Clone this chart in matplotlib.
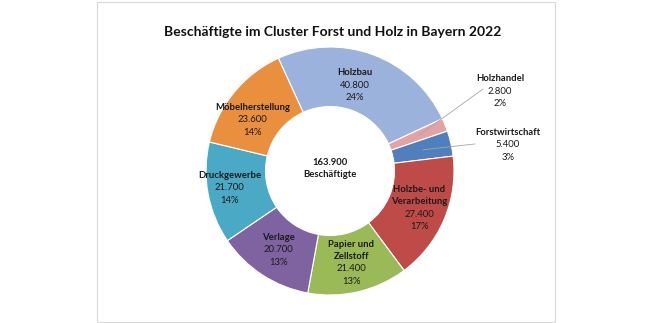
import numpy as np
import matplotlib
matplotlib.use("Agg")
import matplotlib.pyplot as plt
from matplotlib.patches import Rectangle

# Data (Beschäftigte im Cluster Forst und Holz, Bayern 2022)
sectors = ["Holzbau", "Holzhandel", "Forstwirtschaft", "Holzbe- und\nVerarbeitung",
           "Papier und\nZellstoff", "Verlage", "Druckgewerbe", "Möbelherstellung"]
employees = [40800, 2800, 5400, 27400, 21400, 20700, 21700, 23600]
shares = [24, 2, 3, 17, 13, 13, 14, 14]
total_employees = 163900
colors = ["#9BB2DC", "#E3A3A2", "#4F7FBC", "#BE4B48", "#9ABA58", "#7F62A0", "#4AA9C4", "#EA8F3E"]

# label nudges (data units, outer radius = 1)
nudges = [(-0.06, -0.02), (0, 0), (0, 0), (0.02, 0.0),
          (0.0, 0.0), (0.0, 0.0), (-0.06, 0.0), (-0.04, -0.07)]
# outside labels for the two small slices
outside = {1: (1.37, 0.645), 2: (1.435, 0.21)}
outside_line_end = {1: (1.234, 0.661), 2: (1.169, 0.218)}

plt.rcParams['font.family'] = ['Lato', 'DejaVu Sans']

W, H = 646, 323
cx, cy, R = 330, 171, 124
fig = plt.figure(figsize=(W / 100, H / 100), dpi=100)
ax = fig.add_axes([0, 0, 1, 1])

start = 114.6
ax.pie(employees, colors=colors, startangle=start, counterclock=False, radius=1,
       wedgeprops=dict(width=0.48, edgecolor='white', linewidth=0.8))
ax.set_xlim(-cx / R, (W - cx) / R)
ax.set_ylim(-(H - cy) / R, cy / R)
ax.set_aspect('equal')
ax.axis('off')

def fmt(v):
    return f"{v:,}".replace(",", ".")

fs = 6.8
step = 0.1
total = sum(employees)
angle = start
for i, (name, v, p) in enumerate(zip(sectors, employees, shares)):
    sweep = v / total * 360
    mid = np.radians(angle - sweep / 2)
    angle -= sweep
    name_lines = name.split("\n")
    lines = [(l, 'bold') for l in name_lines] + [(fmt(v), 'normal'), (f"{p}%", 'normal')]
    if i in outside:
        bx, by = outside[i]
        sx, sy = 0.77 * np.cos(mid), 0.77 * np.sin(mid)
        ex, ey = outside_line_end[i]
        ax.plot([sx, ex], [sy, ey], color='#A6A6A6', lw=0.6)
    else:
        bx = 0.76 * np.cos(mid) + nudges[i][0]
        by = 0.76 * np.sin(mid) + nudges[i][1]
    n = len(lines)
    for k, (txt, w) in enumerate(lines):
        y = by + (n - 1) / 2 * step - k * step
        ax.text(bx, y, txt, ha='center', va='center', fontsize=fs,
                fontweight=w, color='#1a1a1a')

ax.text(0, 0.02 + step / 2, fmt(total_employees), ha='center', va='center',
        fontsize=fs, fontweight='bold', color='#1a1a1a')
ax.text(0, 0.02 - step / 2, "Beschäftigte", ha='center', va='center',
        fontsize=fs, fontweight='bold', color='#1a1a1a')

fig.text(333 / W, 1 - 32 / H, "Beschäftigte im Cluster Forst und Holz in Bayern 2022",
         ha='center', va='center', fontsize=10, fontweight='bold', color='#111111')

fig.patches.append(Rectangle((97 / W, 1 / H), (555 - 97) / W, (321 - 1) / H,
                             transform=fig.transFigure, fill=False,
                             edgecolor='#D9D9D9', lw=0.8))

fig.savefig("out.png", dpi=100, facecolor='white')
